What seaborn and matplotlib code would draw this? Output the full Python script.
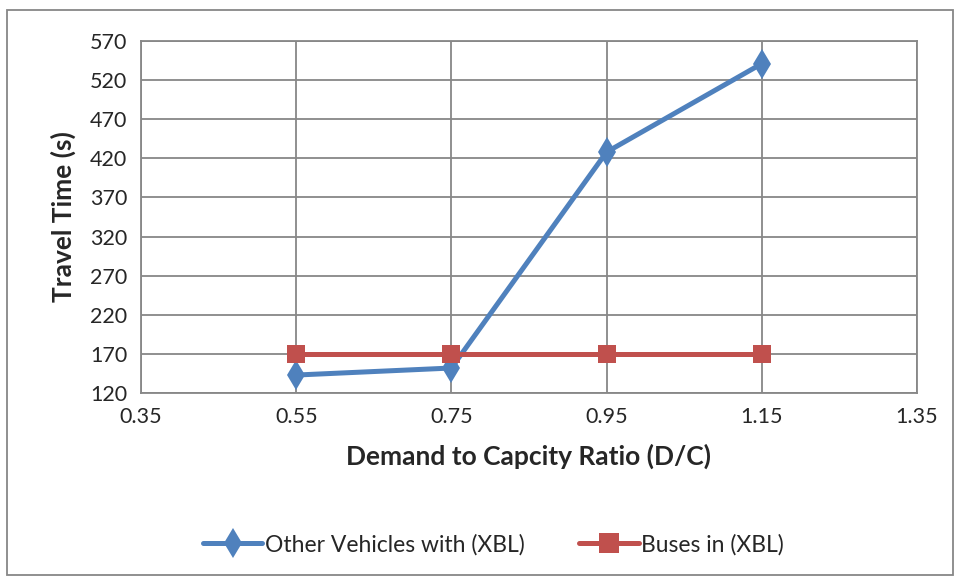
import pandas as pd
import matplotlib.pyplot as plt
import seaborn as sns
from matplotlib.patches import Rectangle

dc_ratio = [0.55, 0.75, 0.95, 1.15]
other_vehicles = [143, 152, 428, 541]
buses = [170, 170, 170, 170]
series_names = ["Other Vehicles with (XBL)", "Buses in (XBL)"]

df = pd.DataFrame({
    "ratio": dc_ratio * 2,
    "time": other_vehicles + buses,
    "series": [series_names[0]] * 4 + [series_names[1]] * 4,
})

sns.set_style("white")
plt.rcParams["font.family"] = ["Lato", "DejaVu Sans"]

fig = plt.figure(figsize=(9.6, 5.78), dpi=100)
ax = fig.add_axes([0.147, 0.320, 0.808, 0.609])

sns.lineplot(
    data=df, x="ratio", y="time", hue="series", style="series",
    palette=["#4F81BD", "#C0504D"], markers=["d", "s"], dashes=False,
    linewidth=3.6, markersize=15, markeredgewidth=0, ax=ax, legend=True
)
# square marker a touch smaller than the diamond
ax.lines[1].set_markersize(13)

ax.set_xlim(0.35, 1.35)
ax.set_ylim(120, 570)
ax.set_xticks([0.35, 0.55, 0.75, 0.95, 1.15, 1.35])
ax.set_xticklabels(["0.35", "0.55", "0.75", "0.95", "1.15", "1.35"])
ax.set_yticks(range(120, 571, 50))
ax.grid(True, color="#878787", linewidth=1.3)
ax.set_axisbelow(True)
for s in ax.spines.values():
    s.set_color("#878787")
    s.set_linewidth(1.3)
ax.tick_params(axis="both", direction="out", length=6, width=1.3, color="#878787",
               labelsize=15.5, pad=4)

ax.set_xlabel("Demand to Capcity Ratio (D/C)", fontsize=19, fontweight="bold", labelpad=12)
ax.set_ylabel("Travel Time (s)", fontsize=19, fontweight="bold", labelpad=10)

leg = ax.legend(loc="center", bbox_to_anchor=(0.514, 0.058), bbox_transform=fig.transFigure,
                ncol=2, frameon=False, fontsize=16.5, handlelength=2.6, handletextpad=0.1,
                columnspacing=2.4)
for h in leg.legend_handles:
    h.set_linewidth(3.6)

fig.patches.append(Rectangle((0.007, 0.005), 0.986, 0.978, transform=fig.transFigure,
                             fill=False, edgecolor="#878787", linewidth=1.3))

fig.savefig("out.png", dpi=100)
